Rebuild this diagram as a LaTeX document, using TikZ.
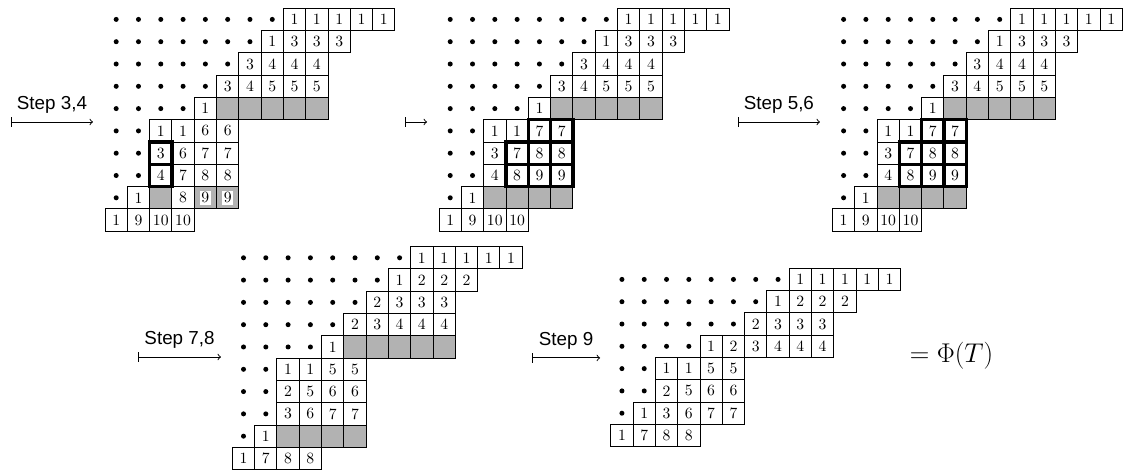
\documentclass[tikz,border=0pt]{standalone}
\usepackage{fontspec}
\setsansfont{Liberation Sans}
\usepackage{amsmath}
\setlength{\fboxsep}{1pt}

% one row of dots, one row of cells, gray cells, bold cells
\newcommand{\dotrow}[2]{\foreach \c in {1,...,#2} \fill (\c-0.5,-#1-0.5) circle (1.6pt);}
\newcommand{\boxrow}[3]{\foreach \v [count=\c from #2] in {#3} \node[cell] (#1-\c) at (\c+0.5,-#1-0.5) {\v};}
\newcommand{\grayrow}[3]{\foreach \c in {#2,...,#3} \draw[line width=0.6pt,fill=gray!60] (\c,-#1) rectangle ++(1,-1);}
\newcommand{\boldrow}[3]{\foreach \c in {#2,...,#3} \draw[line width=2.2pt] (\c,-#1) rectangle ++(1,-1);}
% upper rows shared by the first three tableaux
\newcommand{\upperrows}{
  \dotrow{0}{8} \boxrow{0}{8}{1,1,1,1,1}
  \dotrow{1}{7} \boxrow{1}{7}{1,3,3,3}
  \dotrow{2}{6} \boxrow{2}{6}{3,4,4,4}
  \dotrow{3}{5} \boxrow{3}{5}{3,4,5,5,5}
  \dotrow{4}{4} \grayrow{4}{5}{9} \boxrow{4}{4}{1}
}

\begin{document}
\begin{tikzpicture}[x=0.5cm,y=0.5cm,line width=0.6pt,
  cell/.style={draw,minimum size=5mm,inner sep=0pt,line width=0.6pt},
  steplabel/.style={above=2pt,font=\sffamily\large}]
  \useasboundingbox (0,0) rectangle (50.36,-21.12);

  % first tableau
  \begin{scope}[shift={(4.71,-0.37)},name prefix=ta-]
    \upperrows
    \dotrow{5}{2} \boxrow{5}{2}{1,1,6,6}
    \dotrow{6}{2} \boxrow{6}{2}{3,6,7,7}
    \dotrow{7}{2} \boxrow{7}{2}{4,7,8,8}
    \dotrow{8}{1} \grayrow{8}{2}{2} \grayrow{8}{4}{5}
    \boxrow{8}{1}{1,{},8,\colorbox{white}{9},\colorbox{white}{9}}
    \boxrow{9}{0}{1,9,10,10}
    \boldrow{6}{2}{2} \boldrow{7}{2}{2}
  \end{scope}

  % second and third tableau
  \foreach \ox/\pre in {19.69/tb-,37.33/tc-}{
    \begin{scope}[shift={(\ox,-0.37)},name prefix=\pre]
      \upperrows
      \dotrow{5}{2} \boxrow{5}{2}{1,1,7,7}
      \dotrow{6}{2} \boxrow{6}{2}{3,7,8,8}
      \dotrow{7}{2} \boxrow{7}{2}{4,8,9,9}
      \dotrow{8}{1} \grayrow{8}{2}{5} \boxrow{8}{1}{1}
      \boxrow{9}{0}{1,9,10,10}
      \boldrow{5}{4}{5} \boldrow{6}{3}{5} \boldrow{7}{3}{5}
    \end{scope}
  }

  % fourth tableau
  \begin{scope}[shift={(10.42,-11.06)},name prefix=td-]
    \dotrow{0}{8} \boxrow{0}{8}{1,1,1,1,1}
    \dotrow{1}{7} \boxrow{1}{7}{1,2,2,2}
    \dotrow{2}{6} \boxrow{2}{6}{2,3,3,3}
    \dotrow{3}{5} \boxrow{3}{5}{2,3,4,4,4}
    \dotrow{4}{4} \grayrow{4}{5}{9} \boxrow{4}{4}{1}
    \dotrow{5}{2} \boxrow{5}{2}{1,1,5,5}
    \dotrow{6}{2} \boxrow{6}{2}{2,5,6,6}
    \dotrow{7}{2} \boxrow{7}{2}{3,6,7,7}
    \dotrow{8}{1} \grayrow{8}{2}{5} \boxrow{8}{1}{1}
    \boxrow{9}{0}{1,7,8,8}
  \end{scope}

  % fifth tableau
  \begin{scope}[shift={(27.39,-12.03)},name prefix=te-]
    \dotrow{0}{8} \boxrow{0}{8}{1,1,1,1,1}
    \dotrow{1}{7} \boxrow{1}{7}{1,2,2,2}
    \dotrow{2}{6} \boxrow{2}{6}{2,3,3,3}
    \dotrow{3}{4} \boxrow{3}{4}{1,2,3,4,4,4}
    \dotrow{4}{2} \boxrow{4}{2}{1,1,5,5}
    \dotrow{5}{2} \boxrow{5}{2}{2,5,6,6}
    \dotrow{6}{1} \boxrow{6}{1}{1,3,6,7,7}
    \boxrow{7}{0}{1,7,8,8}
  \end{scope}

  \node (phi) at (42.67,-15.96) {\LARGE $=\Phi(T)$};

  % arrows between the tableaux
  \coordinate (s34a) at (0.49,-5.47);  \coordinate (s34b) at (4.17,-5.47);
  \coordinate (mta) at (18.16,-5.47);  \coordinate (mtb) at (19.15,-5.47);
  \coordinate (s56a) at (33.09,-5.47); \coordinate (s56b) at (36.77,-5.47);
  \coordinate (s78a) at (6.19,-16.01); \coordinate (s78b) at (9.91,-16.01);
  \coordinate (s9a) at (23.86,-16.05); \coordinate (s9b) at (26.91,-16.05);
  \draw[|->] (s34a) -- node[steplabel]{Step 3,4} (s34b);
  \draw[|->] (mta) -- (mtb);
  \draw[|->] (s56a) -- node[steplabel]{Step 5,6} (s56b);
  \draw[|->] (s78a) -- node[steplabel]{Step 7,8} (s78b);
  \draw[|->] (s9a) -- node[steplabel]{Step 9} (s9b);
\end{tikzpicture}
\end{document}
